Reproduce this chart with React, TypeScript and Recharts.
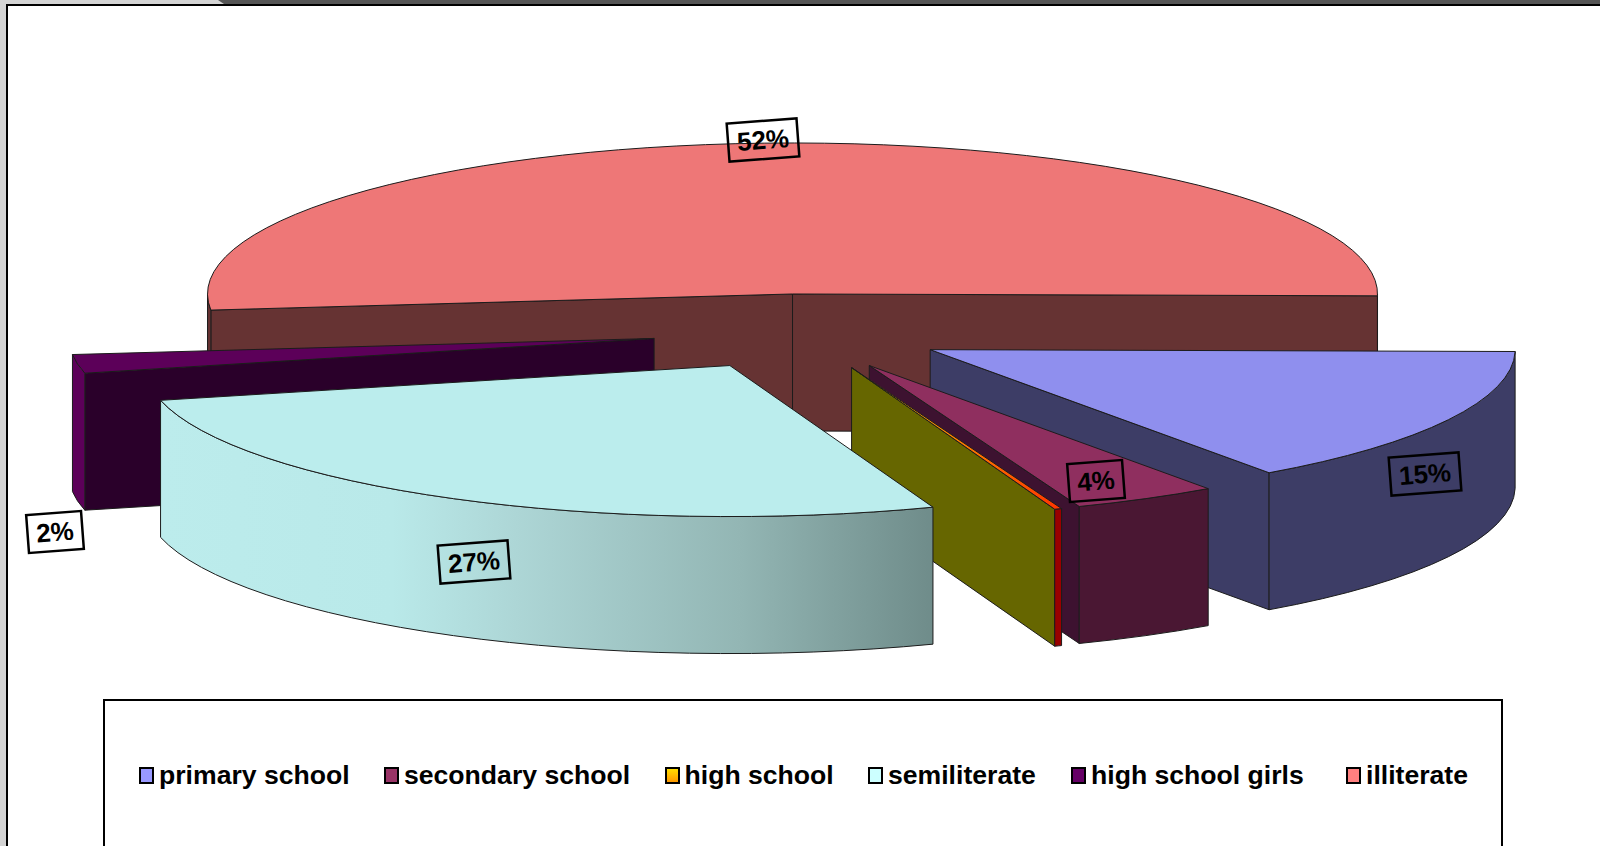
import { Legend, Pie, PieChart } from "recharts";

const categories = ["primary school", "secondary school", "high school", "semiliterate", "high school girls", "illiterate"];
const shares = [15, 4, 0.2, 27, 2, 52];

// top face, outer rim and cut face of each slice
const topColors = ["#8f8fee", "#8f2f5f", "url(#sliverTop)", "#bbeded", "#5c0059", "#ee7777"];
const rimColors = ["#3d3d66", "#4a1733", "#990000", "url(#rimFade)", "#5c0059", "#663333"];
const cutColors = ["#3d3d66", "#3d1230", "#666600", "#bbeded", "#2a002a", "#663333"];
const legendColors = ["#9999ff", "#993366", "url", "#ccffff", "#660066", "#ff8080"];

// slices are painted back to front
const paintOrder = [5, 4, 0, 1, 2, 3];

const labelSpots = [
  [1425, 474],
  [1096, 481],
  null,
  [474, 562],
  [55, 532],
  [763, 140],
];
const legendLefts = [34, 279, 559.5, 763, 966, 1241];

const rows = categories.map((name, i) => ({ name, value: shares[i] }));

const RX = 585;
const RY = 151;
const DEPTH = 137;
const EXPLODE = 147.5;

const rad = (deg: number) => (deg * Math.PI) / 180;

function Slice(props: any) {
  const { cx, cy, startAngle, endAngle, midAngle, index } = props;
  const from = -startAngle;
  const to = -endAngle;
  const ox = cx + EXPLODE * Math.cos(rad(midAngle));
  const oy = cy - (EXPLODE * RY * Math.sin(rad(midAngle))) / RX;
  const px = (deg: number) => ox + RX * Math.cos(rad(deg));
  const py = (deg: number) => oy + RY * Math.sin(rad(deg));
  const outline = { stroke: "#1c1c1c", strokeWidth: 1, strokeLinejoin: "round" as const };

  const cutFace = (deg: number) =>
    `M${ox},${oy}L${px(deg)},${py(deg)}L${px(deg)},${py(deg) + DEPTH}L${ox},${oy + DEPTH}Z`;

  const rimFace = (a: number, b: number) =>
    `M${px(a)},${py(a)}A${RX},${RY} 0 0 1 ${px(b)},${py(b)}L${px(b)},${py(b) + DEPTH}A${RX},${RY} 0 0 0 ${px(a)},${py(a) + DEPTH}Z`;

  // only the front half of the rim faces the viewer
  const rims = [
    [Math.max(from, 0), Math.min(to, 180)],
    [Math.max(from, 360), Math.min(to, 540)],
  ].filter(([a, b]) => b > a);

  const large = to - from > 180 ? 1 : 0;
  const top = `M${ox},${oy}L${px(from)},${py(from)}A${RX},${RY} 0 ${large} 1 ${px(to)},${py(to)}Z`;

  return (
    <g>
      {Math.cos(rad(from)) < 0 && <path d={cutFace(from)} fill={cutColors[index]} {...outline} />}
      {Math.cos(rad(to)) > 0 && <path d={cutFace(to)} fill={cutColors[index]} {...outline} />}
      {rims.map(([a, b]) => (
        <path key={a} d={rimFace(a, b)} fill={rimColors[index]} {...outline} />
      ))}
      <path d={top} fill={topColors[index]} {...outline} />
    </g>
  );
}

function ValueTag({ index, percent }: any) {
  const spot = labelSpots[index];
  if (!spot) return <g />;
  const text = `${Math.round(percent * 100)}%`;
  const w = text.length > 2 ? 70 : 55;
  return (
    <g transform={`translate(${spot[0]},${spot[1]}) rotate(-4.3)`}>
      <rect x={-w / 2} y={-19} width={w} height={38} fill="none" stroke="#000" strokeWidth={2.5} />
      <text x={0} y={9} textAnchor="middle" fontSize={26} fontWeight="bold" fill="#000" fontFamily="'Liberation Sans', Arial, sans-serif">
        {text}
      </text>
    </g>
  );
}

function LegendRow() {
  return (
    <div style={{ position: "relative", width: "100%", height: "100%" }}>
      {categories.map((name, i) => (
        <div key={name} style={{ position: "absolute", left: legendLefts[i], top: 59, display: "flex", alignItems: "center", whiteSpace: "nowrap" }}>
          <span
            style={{
              width: 11,
              height: 13,
              border: "2px solid #000",
              marginRight: 5,
              background: legendColors[i] === "url" ? "linear-gradient(#ffdd00, #ff9900)" : legendColors[i],
            }}
          />
          <span style={{ fontSize: 26.6, fontWeight: "bold", color: "#000", lineHeight: "30px" }}>{name}</span>
        </div>
      ))}
    </div>
  );
}

export default function App() {
  return (
    <div style={{ position: "absolute", left: 0, top: 0, width: 1600, height: 846, overflow: "hidden", background: "#fff", fontFamily: "'Liberation Sans', Arial, sans-serif" }}>
      {/* window edge */}
      <div style={{ position: "absolute", left: 0, top: 0, width: 6, height: 846, background: "#d4d4d4" }} />
      <div style={{ position: "absolute", left: 0, top: 0, width: 1600, height: 4, background: "#d4d4d4" }} />
      <div style={{ position: "absolute", left: 218, top: 0, width: 1382, height: 4, background: "#555", clipPath: "polygon(0 0, 100% 0, 100% 100%, 6px 100%)" }} />
      <div style={{ position: "absolute", left: 6, top: 4, width: 1594, height: 2, background: "#000" }} />
      <div style={{ position: "absolute", left: 6, top: 4, width: 2, height: 842, background: "#000" }} />

      <PieChart width={1600} height={846} margin={{ top: 0, right: 0, bottom: 0, left: 0 }}>
        <defs>
          <linearGradient id="rimFade" x1="0" y1="0" x2="1" y2="0">
            <stop offset="0%" stopColor="#bcecec" />
            <stop offset="30%" stopColor="#b9e9e9" />
            <stop offset="46%" stopColor="#add6d6" />
            <stop offset="75%" stopColor="#93b6b4" />
            <stop offset="100%" stopColor="#6f8c8a" />
          </linearGradient>
          <linearGradient id="sliverTop" x1="0" y1="0" x2="1" y2="0">
            <stop offset="0%" stopColor="#ffcc00" />
            <stop offset="100%" stopColor="#ff3300" />
          </linearGradient>
        </defs>
        {paintOrder.map((slot) => (
          <Pie
            key={slot}
            data={rows}
            dataKey="value"
            nameKey="name"
            cx={799.5}
            cy={332}
            outerRadius={RX}
            startAngle={-0.7}
            endAngle={-360.7}
            stroke="none"
            isAnimationActive={false}
            shape={(props: any) => (props.index === slot ? <Slice {...props} /> : <g />)}
            labelLine={false}
            label={(props: any) => (props.index === slot ? <ValueTag {...props} /> : <g />)}
          />
        ))}
        <Legend
          content={() => <LegendRow />}
          wrapperStyle={{ position: "absolute", left: 103, top: 699, width: 1400, height: 160, border: "2px solid #000", boxSizing: "border-box", background: "#fff" }}
        />
      </PieChart>
    </div>
  );
}
